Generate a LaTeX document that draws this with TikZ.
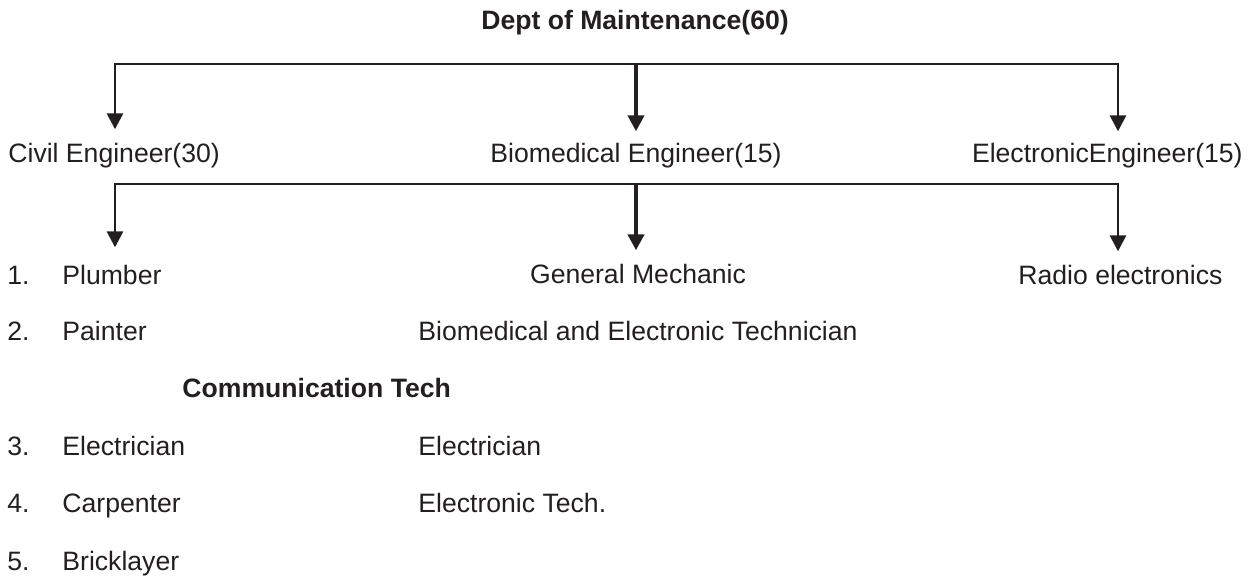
\documentclass[tikz,border=0pt]{standalone}
\usepackage{fontspec}
\setmainfont{Liberation Sans}
\usetikzlibrary{arrows.meta}
\definecolor{ink}{HTML}{231F20}
\tikzset{
	txt/.style={inner sep=0pt, text=ink, font=\fontsize{13.3pt}{16pt}\selectfont},
	head/.style={txt, font=\fontsize{13.3pt}{16pt}\selectfont\bfseries},
	bar/.style={draw=ink, line width=1.4pt},
	down/.style={bar, -{Triangle[length=8pt,width=8pt]}},
	downmid/.style={down, line width=2.2pt},
}
\begin{document}
\begin{tikzpicture}[x=0.5pt,y=-0.5pt]
	\useasboundingbox (0,0) rectangle (1252,576);
	\node[head, anchor=base] (dept) at (635,30) {Dept of Maintenance(60)};
	\node[txt, anchor=base west] (civil)  at (8,163)    {Civil Engineer(30)};
	\node[txt, anchor=base west] (biomed) at (490,163)  {Biomedical Engineer(15)};
	\node[txt, anchor=base east] (electr) at (1243,163) {ElectronicEngineer(15)};
	\node[txt, anchor=base west] (num1) at (7,285) {1.};
	\node[txt, anchor=base west] (num2) at (7,341) {2.};
	\node[txt, anchor=base west] (num3) at (7,456) {3.};
	\node[txt, anchor=base west] (num4) at (7,513) {4.};
	\node[txt, anchor=base west] (num5) at (7,570) {5.};
	\node[txt, anchor=base west] (plumber)   at (62,285) {Plumber};
	\node[txt, anchor=base west] (painter)   at (62,341) {Painter};
	\node[txt, anchor=base west] (electric)  at (62,456) {Electrician};
	\node[txt, anchor=base west] (carpenter) at (62,513) {Carpenter};
	\node[txt, anchor=base west] (brick)     at (62,570) {Bricklayer};
	\node[txt, anchor=base]      (mechanic)  at (638,284)  {General Mechanic};
	\node[txt, anchor=base west] (radio)     at (1018,285) {Radio electronics};
	\node[txt, anchor=base west] (biotech)   at (418,341)  {Biomedical and Electronic Technician};
	\node[head, anchor=base west] (comm)     at (182,398)  {Communication Tech};
	\node[txt, anchor=base west] (electric2) at (418,456)  {Electrician};
	\node[txt, anchor=base west] (etech)     at (418,513)  {Electronic Tech.};
	\coordinate (topl) at (115,64);
	\coordinate (topm) at (636,64);
	\coordinate (topr) at (1118,64);
	\coordinate (lowl) at (115,184);
	\coordinate (lowm) at (636,184);
	\coordinate (lowr) at (1118,184);
	\draw[down, shorten >=7pt] (topm) -- (topl) -- (topl |- civil.north);
	\draw[down, shorten >=6pt] (topm) -- (topr) -- (topr |- electr.north);
	\draw[downmid, shorten >=6pt] (topm) -- (topm |- biomed.north);
	\draw[down, shorten >=9pt] (lowm) -- (lowl) -- (lowl |- plumber.north);
	\draw[down, shorten >=7pt] (lowm) -- (lowr) -- (lowr |- radio.north);
	\draw[downmid, shorten >=7pt] (lowm) -- (lowm |- mechanic.north);
\end{tikzpicture}
\end{document}
